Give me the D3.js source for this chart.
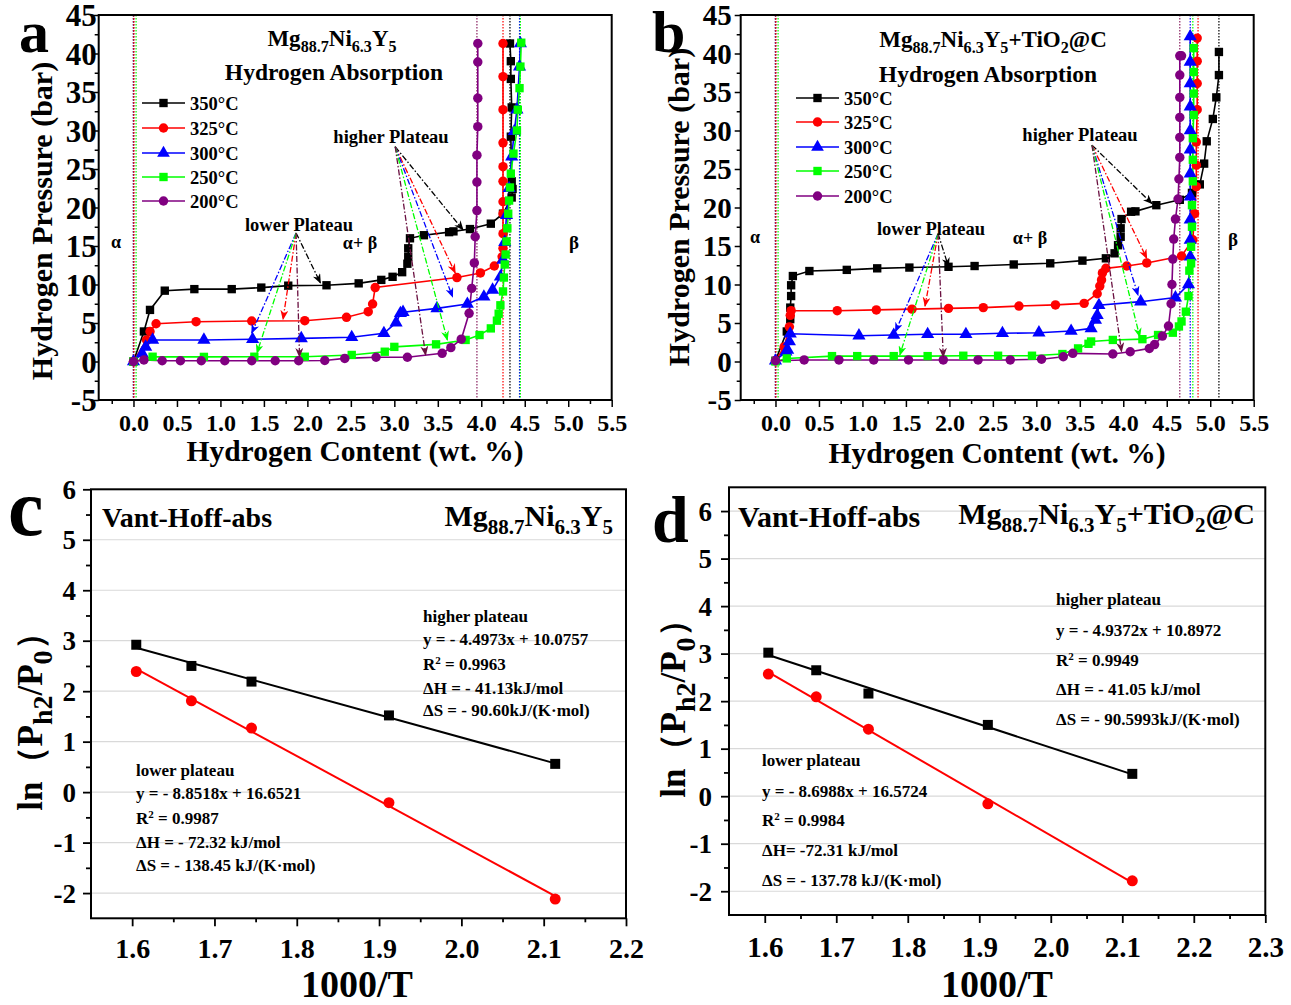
<!DOCTYPE html>
<html><head><meta charset="utf-8">
<script src="https://cdn.jsdelivr.net/npm/d3@7"></script>
<style>
body{margin:0;background:#fff}
text{font-family:"Liberation Serif","Times New Roman",serif;font-weight:bold}
</style>
</head><body>
<svg id="chart" width="1291" height="1005"></svg>
<script>
// ---------------- DATA ----------------
const seriesNames = ["350°C","325°C","300°C","250°C","200°C"];
const seriesColors = ["#000000","#ff0000","#0000ff","#00ff00","#800080"];
const seriesSymbols = ["square","circle","triangle","square","circle"];

const pctXTicks = [0,0.5,1,1.5,2,2.5,3,3.5,4,4.5,5,5.5];
const pctYTicks = [-5,0,5,10,15,20,25,30,35,40,45];

// Panel a: Mg88.7Ni6.3Y5  [wt.%, bar]
const a350 = [[0,0],[0.12,3.9],[0.19,6.7],[0.36,9.2],[0.70,9.4],[1.13,9.4],[1.47,9.6],[1.78,9.85],[2.22,9.9],[2.59,10.15],[2.85,10.6],[2.98,11.0],[3.09,11.6],[3.15,12.7],[3.16,13.6],[3.16,14.7],[3.18,16.0],[3.34,16.4],[3.63,16.8],[3.68,16.9],[3.87,17.2],[4.11,17.9],[4.25,19.2],[4.35,21.3],[4.36,22.4],[4.35,23.4],[4.34,29.2],[4.35,33.0],[4.34,36.7],[4.34,39.0],[4.33,41.3]];
const a325 = [[0,0],[0.15,2.8],[0.19,3.9],[0.26,4.9],[0.72,5.17],[1.36,5.26],[1.97,5.3],[2.45,5.74],[2.70,6.47],[2.75,7.47],[2.78,9.6],[3.72,10.9],[3.99,11.5],[4.15,12.4],[4.24,13.6],[4.25,14.7],[4.25,16.6],[4.25,19.2],[4.25,20.75],[4.25,23.4],[4.25,25.3],[4.25,28.4],[4.25,32.7],[4.25,37.0],[4.25,41.3]];
const a300 = [[0,0],[0.10,1.06],[0.14,1.9],[0.22,2.8],[0.81,2.8],[1.37,2.88],[1.93,3.0],[2.51,3.14],[2.88,3.66],[3.02,5.04],[3.07,6.26],[3.10,6.4],[3.49,6.9],[3.84,7.47],[4.03,8.4],[4.13,9.3],[4.22,11.0],[4.25,13.2],[4.27,15.5],[4.29,19.0],[4.32,22.5],[4.35,26.6],[4.38,29.9],[4.41,32.7],[4.44,38.3],[4.45,41.3]];
const a250 = [[0,0],[0.22,0.62],[0.81,0.6],[1.39,0.62],[1.97,0.62],[2.51,0.85],[2.89,1.27],[3.00,1.9],[3.48,2.23],[3.82,2.8],[3.98,3.44],[4.11,4.3],[4.18,5.3],[4.20,6.2],[4.22,7.3],[4.25,9.1],[4.26,10.9],[4.27,12.6],[4.28,13.9],[4.29,15.6],[4.30,17.3],[4.31,19.2],[4.32,20.9],[4.33,22.6],[4.34,24.4],[4.37,27.0],[4.41,30.0],[4.42,32.7],[4.44,35.5],[4.45,38.3],[4.46,41.4]];
const a200 = [[0,0],[0.12,0.2],[0.33,0.1],[0.54,0.1],[0.78,0.1],[1.05,0.1],[1.36,0.1],[1.63,0.1],[1.90,0.1],[2.2,0.13],[2.43,0.4],[2.79,0.55],[3.15,0.55],[3.55,1.06],[3.65,1.8],[3.77,2.9],[3.86,6.26],[3.89,9.5],[3.92,12.8],[3.93,16.2],[3.95,19.6],[3.95,23.3],[3.95,26.8],[3.96,30.5],[3.96,34.2],[3.96,38.9],[3.96,41.3]];
const aVLeft  = [0.0,0.005,0.0,0.03,0.0];
const aVRight = [4.33,4.25,4.44,4.45,3.95];
const aLowOrigin  = [1.87,16.7];
const aLowTargets = [[2.15,10.2],[1.72,5.5],[1.36,3.7],[1.42,1.1],[1.91,0.6]];
const aHighOrigin = [3.01,27.9];
const aHighTargets= [[3.79,17.1],[3.70,11.5],[3.67,8.4],[3.61,2.8],[3.36,0.85]];

// Panel b: Mg88.7Ni6.3Y5+TiO2@C
const b350 = [[0,0.1],[0.13,3.9],[0.17,5.5],[0.17,7.0],[0.18,8.5],[0.18,9.9],[0.20,11.1],[0.39,11.75],[0.82,11.9],[1.17,12.1],[1.54,12.2],[1.99,12.3],[2.29,12.4],[2.74,12.6],[3.16,12.75],[3.53,13.1],[3.80,13.4],[3.90,14.05],[3.94,15.1],[3.97,16.2],[3.97,17.3],[3.98,18.5],[4.09,19.45],[4.14,19.5],[4.38,20.3],[4.65,21.0],[4.79,21.9],[4.88,23.0],[4.93,25.7],[4.96,28.6],[5.03,31.5],[5.07,34.3],[5.10,37.2],[5.10,40.2]];
const b325 = [[0,0.1],[0.10,1.9],[0.16,4.5],[0.17,6.0],[0.18,6.6],[0.71,6.6],[1.16,6.7],[1.57,6.8],[1.99,6.9],[2.39,7.0],[2.80,7.2],[3.22,7.35],[3.55,7.55],[3.70,8.8],[3.73,9.8],[3.75,10.6],[3.76,11.5],[3.80,12.1],[4.04,12.4],[4.27,12.8],[4.67,13.7],[4.80,15.8],[4.82,19.2],[4.84,22.7],[4.84,25.5],[4.84,28.5],[4.85,32.7],[4.85,36.1],[4.85,39.0],[4.85,42.0]];
const b300 = [[0,0.1],[0.12,1.27],[0.14,1.5],[0.16,2.6],[0.17,3.6],[0.96,3.35],[1.36,3.44],[1.75,3.53],[2.19,3.53],[2.61,3.66],[3.03,3.74],[3.40,3.96],[3.63,4.3],[3.68,5.4],[3.70,6.0],[3.72,7.3],[4.20,7.77],[4.60,8.3],[4.75,10.0],[4.77,13.6],[4.77,15.8],[4.77,18.4],[4.77,21.4],[4.77,24.4],[4.77,27.5],[4.77,30.0],[4.77,33.1],[4.77,36.1],[4.77,38.9],[4.77,42.2]];
const b250 = [[0,0],[0.13,0.4],[0.65,0.7],[0.94,0.7],[1.36,0.7],[1.75,0.7],[2.16,0.75],[2.56,0.75],[2.95,0.75],[3.30,0.97],[3.48,1.7],[3.60,2.3],[3.63,2.6],[3.88,2.8],[4.22,2.9],[4.40,3.44],[4.57,3.74],[4.64,4.55],[4.67,5.2],[4.72,6.47],[4.75,8.5],[4.76,11.8],[4.78,12.75],[4.78,14.9],[4.79,17.5],[4.79,20.3],[4.80,23.4],[4.80,26.2],[4.80,29.0],[4.81,32.0],[4.81,34.8],[4.81,37.6],[4.81,40.7]];
const b200 = [[0,0.1],[0.33,0.2],[0.73,0.2],[1.13,0.2],[1.53,0.2],[1.93,0.2],[2.33,0.2],[2.70,0.2],[3.06,0.3],[3.31,0.62],[3.42,1.06],[3.88,0.97],[4.08,1.27],[4.30,1.7],[4.36,2.2],[4.45,3.3],[4.52,4.6],[4.55,7.5],[4.56,10.0],[4.57,13.3],[4.58,15.9],[4.60,18.5],[4.63,21.1],[4.64,23.7],[4.65,26.5],[4.65,29.1],[4.65,31.7],[4.65,34.3],[4.65,37.2],[4.65,39.7],[4.67,39.7]];
const bVLeft  = [0.0,0.005,0.0,0.03,0.0];
const bVRight = [5.10,4.86,4.77,4.80,4.65];
const bLowOrigin  = [1.87,16.6];
const bLowTargets = [[1.99,12.3],[1.72,7.2],[1.38,3.9],[1.43,0.85],[1.93,0.6]];
const bHighOrigin = [3.64,28.1];
const bHighTargets= [[4.33,20.5],[4.27,13.4],[4.17,8.6],[4.19,3.2],[3.98,1.3]];

// Van't Hoff panels  (x = 1000/T, y = ln(P/P0))
const vhX = [1.605,1.672,1.745,1.912,2.114];
const cHigh = [2.92,2.50,2.19,1.52,0.56];
const cLow  = [2.39,1.81,1.27,-0.21,-2.12];
const cHighFit = [2.86,0.57];
const cLowFit  = [2.44,-2.06];
const dHigh = [3.02,2.65,2.16,1.50,0.47];
const dLow  = [2.57,2.09,1.41,-0.16,-1.78];
const dHighFit = [2.97,0.46];
const dLowFit  = [2.61,-1.82];
const fitX = [1.605,2.114];
const cXTicks = [1.6,1.7,1.8,1.9,2.0,2.1,2.2];
const dXTicks = [1.6,1.7,1.8,1.9,2.0,2.1,2.2,2.3];
const vhYTicks = [-2,-1,0,1,2,3,4,5,6];

const cHighText = [[["higher plateau"]],[["y = - 4.4973x + 10.0757"]],[["R"],["2","sup"],[" = 0.9963"]],[["ΔH = - 41.13kJ/mol"]],[["ΔS = - 90.60kJ/(K·mol)"]]];
const cLowText  = [[["lower plateau"]],[["y = - 8.8518x + 16.6521"]],[["R"],["2","sup"],[" = 0.9987"]],[["ΔH = - 72.32 kJ/mol"]],[["ΔS = - 138.45 kJ/(K·mol)"]]];
const dHighText = [[["higher plateau"]],[["y = - 4.9372x + 10.8972"]],[["R"],["2","sup"],[" = 0.9949"]],[["ΔH = - 41.05 kJ/mol"]],[["ΔS = - 90.5993kJ/(K·mol)"]]];
const dLowText  = [[["lower plateau"]],[["y = - 8.6988x + 16.5724"]],[["R"],["2","sup"],[" = 0.9984"]],[["ΔH= -72.31 kJ/mol"]],[["ΔS = - 137.78 kJ/(K·mol)"]]];

// ---------------- HELPERS ----------------
const svg = d3.select("#chart");
const defs = svg.append("defs");
const hyph = f => (d => f(d).replace("\u2212", "-"));

function txt(g, x, y, parts, o) {
  o = o || {};
  const size = o.size || 18;
  let tr = `translate(${x},${y})`;
  if (o.rot) tr += ` rotate(${o.rot})`;
  if (o.sx) tr += ` scale(${o.sx},1)`;
  const t = g.append("text").attr("transform", tr)
    .attr("font-size", size).attr("text-anchor", o.anchor || "start")
    .attr("fill", o.fill || "#000");
  if (typeof parts === "string") parts = [[parts]];
  let shift = 0;
  parts.forEach(([s, k]) => {
    const target = k === "sub" ? 0.28 : (k === "sup" ? -0.38 : 0);
    const ts = t.append("tspan").text(s);
    if (k) ts.attr("font-size", size * (o.subScale || 0.65));
    const dy = (target - shift) * size;
    if (dy) ts.attr("dy", dy);
    shift = target;
  });
  return t;
}

function symbolPath(type, size) {
  const map = {square: d3.symbolSquare, circle: d3.symbolCircle, triangle: d3.symbolTriangle};
  return d3.symbol().type(map[type]).size(size)();
}

// arrow markers
seriesColors.forEach((c, i) => {
  const ac = i === 4 ? "#6a1040" : c;
  defs.append("marker").attr("id", "arr" + i)
    .attr("viewBox", "0 0 10 8").attr("refX", 9).attr("refY", 4)
    .attr("markerWidth", 10).attr("markerHeight", 8).attr("markerUnits", "userSpaceOnUse")
    .attr("orient", "auto")
    .append("path").attr("d", "M0,0 L10,4 L0,8 L3,4 Z").attr("fill", ac);
});

// ---------------- PCT PANELS ----------------
function pctPanel(box, data, vLeft, vRight, lowO, lowT, highO, highT, cfg) {
  const x = d3.scaleLinear().domain([-0.4, 5.5]).range([box.x0, box.x1]);
  const y = d3.scaleLinear().domain([-5, 45]).range([box.y1, box.y0]);
  const g = svg.append("g");

  // minor ticks
  const xMinor = d3.range(-0.25, 5.51, 0.5);
  const yMinor = d3.range(-2.5, 45, 5);
  g.append("g").attr("transform", `translate(0,${box.y1})`)
    .call(d3.axisBottom(x).tickValues(xMinor).tickSize(4).tickFormat(""))
    .call(s => s.select(".domain").remove())
    .call(s => s.selectAll("line").attr("stroke-width", 1.5));
  g.append("g").attr("transform", `translate(${box.x0},0)`)
    .call(d3.axisLeft(y).tickValues(yMinor).tickSize(4).tickFormat(""))
    .call(s => s.select(".domain").remove())
    .call(s => s.selectAll("line").attr("stroke-width", 1.5));

  // major axes
  const xa = g.append("g").attr("transform", `translate(0,${box.y1})`)
    .call(d3.axisBottom(x).tickValues(pctXTicks).tickSize(7).tickFormat(d3.format(".1f")));
  xa.select(".domain").remove();
  xa.selectAll("line").attr("stroke-width", 1.5);
  xa.selectAll("text").attr("dy", null).attr("y", 31)
    .attr("font-size", 24).attr("font-family", null).attr("fill", "#000");
  const ya = g.append("g").attr("transform", `translate(${box.x0},0)`)
    .call(d3.axisLeft(y).tickValues(pctYTicks).tickSize(6).tickPadding(cfg.yPad)
      .tickFormat(hyph(d3.format("d"))));
  ya.select(".domain").remove();
  ya.selectAll("line").attr("stroke-width", 1.5);
  ya.selectAll("text").attr("font-size", cfg.yFont).attr("font-family", null)
    .attr("fill", "#000").attr("dy", "0.34em");

  // vertical dotted lines
  const order = [0, 2, 4, 1, 3];
  order.forEach(i => {
    [vLeft[i], vRight[i]].forEach(v => {
      g.append("line").attr("x1", x(v)).attr("x2", x(v)).attr("y1", box.y0).attr("y2", box.y1)
        .attr("stroke", i === 4 ? "#8a2060" : seriesColors[i]).attr("stroke-width", 1.2)
        .attr("stroke-dasharray", "1.5,1.5");
    });
  });

  // curves
  const line = d3.line().x(d => x(d[0])).y(d => y(d[1]));
  data.forEach((ser, i) => {
    g.append("path").datum(ser).attr("d", line).attr("fill", "none")
      .attr("stroke", seriesColors[i]).attr("stroke-width", 1.6);
  });
  data.forEach((ser, i) => {
    const sz = seriesSymbols[i] === "triangle" ? 75 : 70;
    g.selectAll(null).data(ser).enter().append("path")
      .attr("transform", d => `translate(${x(d[0])},${y(d[1])})`)
      .attr("d", symbolPath(seriesSymbols[i], sz))
      .attr("fill", seriesColors[i]);
  });

  // arrows
  [[lowO, lowT], [highO, highT]].forEach(([o, ts]) => {
    ts.forEach((t, i) => {
      g.append("line").attr("x1", x(o[0])).attr("y1", y(o[1]))
        .attr("x2", x(t[0])).attr("y2", y(t[1]))
        .attr("stroke", i === 4 ? "#6a1040" : seriesColors[i]).attr("stroke-width", 1.3)
        .attr("stroke-dasharray", "6,2,1.5,2")
        .attr("marker-end", `url(#arr${i})`);
    });
  });

  // frame
  g.append("rect").attr("x", box.x0).attr("y", box.y0)
    .attr("width", box.x1 - box.x0).attr("height", box.y1 - box.y0)
    .attr("fill", "none").attr("stroke", "#000").attr("stroke-width", 2);

  // legend
  cfg.legendRows.forEach((ry, i) => {
    g.append("line").attr("x1", cfg.legX0).attr("x2", cfg.legX1).attr("y1", ry).attr("y2", ry)
      .attr("stroke", seriesColors[i]).attr("stroke-width", 1.6);
    g.append("path").attr("transform", `translate(${(cfg.legX0 + cfg.legX1) / 2},${ry})`)
      .attr("d", symbolPath(seriesSymbols[i], 70)).attr("fill", seriesColors[i]);
    txt(g, cfg.legX1 + 5, ry + 6.5, seriesNames[i], {size: 18.5});
  });

  // labels
  txt(g, cfg.alpha[0], cfg.alpha[1] + 6, "α", {size: 18, anchor: "middle"});
  txt(g, cfg.ab[0], cfg.ab[1] + 6, "α+ β", {size: 18, anchor: "middle"});
  txt(g, cfg.beta[0], cfg.beta[1] + 6, "β", {size: 19, anchor: "middle"});
  txt(g, cfg.low[0], cfg.low[1] + 6, "lower Plateau", {size: 18.5, anchor: "middle"});
  txt(g, cfg.high[0], cfg.high[1] + 6, "higher Plateau", {size: 18.5, anchor: "middle"});

  // titles
  txt(g, cfg.title[0], cfg.title[1], cfg.titleParts, {size: 23, anchor: "middle", subScale: 0.7});
  txt(g, cfg.title2[0], cfg.title2[1], "Hydrogen Absorption", {size: 23.5, anchor: "middle"});

  // axis titles
  txt(g, cfg.xTitle[0], cfg.xTitle[1], "Hydrogen Content (wt. %)", {size: 29.5, anchor: "middle"});
  txt(g, cfg.yTitle[0], cfg.yTitle[1], "Hydrogen Pressure (bar)", {size: cfg.yTitleSize, anchor: "middle", rot: -90});

  // panel letter
  txt(g, cfg.letter[0], cfg.letter[1], cfg.letterText, {size: 60});
}

pctPanel({x0: 98.7, x1: 611.7, y0: 15, y1: 400},
  [a350, a325, a300, a250, a200], aVLeft, aVRight, aLowOrigin, aLowTargets, aHighOrigin, aHighTargets,
  {yPad: -4, yFont: 31, legendRows: [103, 128, 153, 177, 201], legX0: 142, legX1: 185,
   alpha: [116, 242], ab: [360, 243], beta: [574, 243], low: [299, 225], high: [391, 137],
   title: [332, 46], titleParts: [["Mg"], ["88.7", "sub"], ["Ni"], ["6.3", "sub"], ["Y"], ["5", "sub"]],
   title2: [334, 80], xTitle: [355, 461], yTitle: [52, 221], yTitleSize: 30, letter: [19, 52], letterText: "a"});

pctPanel({x0: 740.7, x1: 1253.7, y0: 15, y1: 400},
  [b350, b325, b300, b250, b200], bVLeft, bVRight, bLowOrigin, bLowTargets, bHighOrigin, bHighTargets,
  {yPad: 3, yFont: 29, legendRows: [98, 122, 147, 171, 196], legX0: 796, legX1: 839,
   alpha: [755, 237], ab: [1030, 238], beta: [1233, 240], low: [931, 229], high: [1080, 135],
   title: [993, 47], titleParts: [["Mg"], ["88.7", "sub"], ["Ni"], ["6.3", "sub"], ["Y"], ["5", "sub"], ["+TiO"], ["2", "sub"], ["@C"]],
   title2: [988, 82], xTitle: [997, 463], yTitle: [689, 207], yTitleSize: 30, letter: [652, 52], letterText: "b"});

// ---------------- VAN'T HOFF PANELS ----------------
function vhPanel(box, xDom, yDom, xTicks, high, low, highFit, lowFit, cfg) {
  const x = d3.scaleLinear().domain(xDom).range([box.x0, box.x1]);
  const y = d3.scaleLinear().domain(yDom).range([box.y1, box.y0]);
  const g = svg.append("g");

  // grid
  g.selectAll(null).data(vhYTicks.filter(v => y(v) > box.y0 + 1)).enter().append("line")
    .attr("x1", box.x0).attr("x2", box.x1).attr("y1", d => y(d)).attr("y2", d => y(d))
    .attr("stroke", "#d9d9d9").attr("stroke-width", 1.2);

  // minor ticks
  const xMinor = d3.range(xDom[0] + 0.1, xDom[1], 0.1).map(v => +(v.toFixed(3)));
  const yMinor = d3.range(-1.5, yDom[1], 1);
  g.append("g").attr("transform", `translate(0,${box.y1})`)
    .call(d3.axisBottom(x).tickValues(xMinor).tickSize(4).tickFormat(""))
    .call(s => s.select(".domain").remove())
    .call(s => s.selectAll("line").attr("stroke-width", 1.8));
  g.append("g").attr("transform", `translate(${box.x0},0)`)
    .call(d3.axisLeft(y).tickValues(yMinor).tickSize(5).tickFormat(""))
    .call(s => s.select(".domain").remove())
    .call(s => s.selectAll("line").attr("stroke-width", 1.8));

  const xa = g.append("g").attr("transform", `translate(0,${box.y1})`)
    .call(d3.axisBottom(x).tickValues(xTicks).tickSize(8).tickFormat(d3.format(".1f")));
  xa.select(".domain").remove();
  xa.selectAll("line").attr("stroke-width", 1.8);
  xa.selectAll("text").attr("dy", null).attr("y", cfg.xLabY)
    .attr("font-size", cfg.xFont).attr("font-family", null).attr("fill", "#000");
  const ya = g.append("g").attr("transform", `translate(${box.x0},0)`)
    .call(d3.axisLeft(y).tickValues(vhYTicks).tickSize(8).tickPadding(cfg.yPad)
      .tickFormat(hyph(d3.format("d"))));
  ya.select(".domain").remove();
  ya.selectAll("line").attr("stroke-width", 1.8);
  ya.selectAll("text").attr("font-size", 27).attr("font-family", null)
    .attr("fill", "#000").attr("dy", "0.34em");

  // fits
  const line = d3.line().x(d => x(d[0])).y(d => y(d[1]));
  g.append("path").datum(fitX.map((v, i) => [v, highFit[i]])).attr("d", line)
    .attr("stroke", "#000").attr("stroke-width", 2).attr("fill", "none");
  g.append("path").datum(fitX.map((v, i) => [v, lowFit[i]])).attr("d", line)
    .attr("stroke", "#ff0000").attr("stroke-width", 2).attr("fill", "none");

  g.selectAll(null).data(vhX.map((v, i) => [v, high[i]])).enter().append("path")
    .attr("transform", d => `translate(${x(d[0])},${y(d[1])})`)
    .attr("d", symbolPath("square", 100)).attr("fill", "#000");
  g.selectAll(null).data(vhX.map((v, i) => [v, low[i]])).enter().append("path")
    .attr("transform", d => `translate(${x(d[0])},${y(d[1])})`)
    .attr("d", symbolPath("circle", 95)).attr("fill", "#ff0000");

  g.append("rect").attr("x", box.x0).attr("y", box.y0)
    .attr("width", box.x1 - box.x0).attr("height", box.y1 - box.y0)
    .attr("fill", "none").attr("stroke", "#000").attr("stroke-width", 2);

  txt(g, cfg.vant[0], cfg.vant[1], "Vant-Hoff-abs", {size: cfg.vantSize});
  txt(g, cfg.title[0], cfg.title[1], cfg.titleParts, {size: 30, anchor: "end", subScale: 0.7});

  cfg.highText.forEach((p, i) => txt(g, cfg.highX, cfg.highYs[i] + 6, p, {size: 17}));
  cfg.lowText.forEach((p, i) => txt(g, cfg.lowX, cfg.lowYs[i] + 6, p, {size: 17}));

  txt(g, cfg.xTitle[0], cfg.xTitle[1], "1000/T", {size: 38, anchor: "middle"});
  txt(g, cfg.yTitle[0], cfg.yTitle[1], [["ln（P"], ["h2", "sub"], ["/P"], ["0", "sub"], ["）"]],
      {size: 35, anchor: "middle", rot: -90, subScale: 0.8});
  txt(g, cfg.letter[0], cfg.letter[1], cfg.letterText, {size: cfg.letterSize});
}

vhPanel({x0: 91, x1: 626, y0: 489.3, y1: 918.3}, [1.55, 2.2], [-2.5, 6], cXTicks,
  cHigh, cLow, cHighFit, cLowFit,
  {xLabY: 39.5, xFont: 28, yPad: 7, vant: [102, 527], vantSize: 28,
   title: [613, 526], titleParts: [["Mg"], ["88.7", "sub"], ["Ni"], ["6.3", "sub"], ["Y"], ["5", "sub"]],
   highText: cHighText, highX: 423, highYs: [616, 639, 664, 688, 710],
   lowText: cLowText, lowX: 136, lowYs: [770, 793, 818, 842, 865],
   xTitle: [357, 997], yTitle: [42, 713], letter: [8, 535], letterText: "c", letterSize: 80});

vhPanel({x0: 729, x1: 1265.3, y0: 487.3, y1: 915}, [1.55, 2.3], [-2.5, 6.5], dXTicks,
  dHigh, dLow, dHighFit, dLowFit,
  {xLabY: 42, xFont: 29, yPad: 9, vant: [738, 527], vantSize: 30,
   title: [1255, 524], titleParts: [["Mg"], ["88.7", "sub"], ["Ni"], ["6.3", "sub"], ["Y"], ["5", "sub"], ["+TiO"], ["2", "sub"], ["@C"]],
   highText: dHighText, highX: 1056, highYs: [599, 630, 660, 689, 719],
   lowText: dLowText, lowX: 762, lowYs: [760, 791, 820, 850, 880],
   xTitle: [997, 997], yTitle: [685, 700], letter: [652, 542], letterText: "d", letterSize: 66});
</script>
</body></html>
